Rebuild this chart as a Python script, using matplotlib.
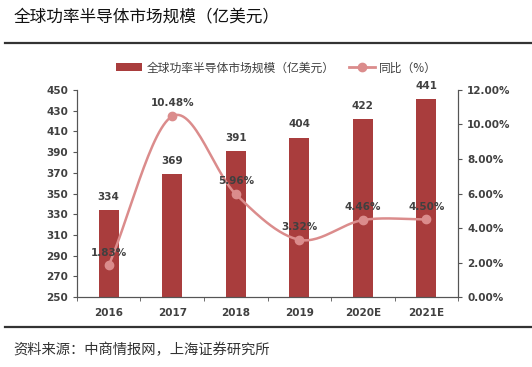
import numpy as np
import matplotlib.pyplot as plt
from matplotlib.lines import Line2D

plt.rcParams['font.family'] = ['Noto Sans CJK SC', 'DejaVu Sans']

# Dados do gráfico
anos = ["2016", "2017", "2018", "2019", "2020E", "2021E"]
mercado = [334, 369, 391, 404, 422, 441]
crescimento = [1.83, 10.48, 5.96, 3.32, 4.46, 4.50]

COR_BARRA = "#A93D3D"
COR_LINHA = "#DB8C8C"
COR_TEXTO = "#404040"


# Curva suave (Catmull-Rom) passando pelos pontos
def curva_suave(xs, ys, passos=30):
    xs = np.asarray(xs, float)
    ys = np.asarray(ys, float)
    px = np.concatenate([[2 * xs[0] - xs[1]], xs, [2 * xs[-1] - xs[-2]]])
    py = np.concatenate([[2 * ys[0] - ys[1]], ys, [2 * ys[-1] - ys[-2]]])
    cx, cy = [], []
    t = np.linspace(0, 1, passos)
    for i in range(1, len(px) - 2):
        for p, out in ((px, cx), (py, cy)):
            p0, p1, p2, p3 = p[i - 1], p[i], p[i + 1], p[i + 2]
            out.extend(0.5 * ((2 * p1) + (-p0 + p2) * t
                              + (2 * p0 - 5 * p1 + 4 * p2 - p3) * t ** 2
                              + (-p0 + 3 * p1 - 3 * p2 + p3) * t ** 3))
    return np.array(cx), np.array(cy)


fig = plt.figure(figsize=(5.32, 3.67), dpi=100)
ax = fig.add_axes([0.1447, 0.1907, 0.7163, 0.5641])
ax2 = ax.twinx()

x = np.arange(len(anos))
barras = ax.bar(x, mercado, width=0.32, color=COR_BARRA, zorder=2,
                label="全球功率半导体市场规模（亿美元）")
for xi, v in zip(x, mercado):
    ax.text(xi, v + 8, str(v), ha="center", va="bottom", fontsize=7.5,
            color=COR_TEXTO, fontweight="bold", family="DejaVu Sans")

ax.set_ylim(250, 450)
ax.set_yticks(np.arange(250, 451, 20))
ax.set_xlim(-0.5, len(anos) - 0.5)
ax.set_xticks(x)
ax.set_xticklabels(anos)
ax.set_xticks(np.arange(-0.5, len(anos), 1), minor=True)
ax.tick_params(axis="x", which="major", length=0, pad=8)
ax.tick_params(axis="x", which="minor", length=3, color="#555555")
ax.tick_params(axis="y", length=3, color="#555555")

ax2.set_ylim(0, 12)
ax2.set_yticks(np.arange(0, 12.1, 2))
ax2.set_yticklabels([f"{v:.2f}%" for v in np.arange(0, 12.1, 2)])
ax2.tick_params(axis="y", length=3, color="#555555")

cx, cy = curva_suave(x, crescimento)
ax2.plot(cx, cy, color=COR_LINHA, linewidth=1.8, zorder=3)
ax2.plot(x, crescimento, "o", color=COR_LINHA, markersize=6, zorder=4)
for xi, v in zip(x, crescimento):
    ax2.text(xi, v + 0.45, f"{v:.2f}%", ha="center", va="bottom",
             fontsize=7.5, color=COR_TEXTO, fontweight="bold",
             family="DejaVu Sans")

for eixo in (ax, ax2):
    eixo.spines["top"].set_visible(False)
    for lado in ("left", "right", "bottom"):
        eixo.spines[lado].set_color("#555555")
    for lbl in eixo.get_xticklabels() + eixo.get_yticklabels():
        lbl.set_fontsize(7.5)
        lbl.set_fontweight("bold")
        lbl.set_color(COR_TEXTO)
        lbl.set_family("DejaVu Sans")

# Legenda
alca_linha = Line2D([], [], color=COR_LINHA, linewidth=2, marker="o",
                    markersize=6, label="同比（%）")
fig.legend(handles=[barras, alca_linha], loc="center", ncol=2,
           bbox_to_anchor=(0.52, 0.815), frameon=False, fontsize=8.5,
           handlelength=2.2, columnspacing=1.2, handletextpad=0.4,
           labelcolor=COR_TEXTO)

# Título, linhas e fonte
fig.text(0.025, 0.951, "全球功率半导体市场规模（亿美元）", fontsize=12,
         va="center", ha="left", color="#111111")
fig.add_artist(Line2D([0.01, 1.0], [0.883, 0.883], color="#333333",
                      linewidth=1.6))
fig.add_artist(Line2D([0.01, 1.0], [0.109, 0.109], color="#333333",
                      linewidth=1.6))
fig.text(0.025, 0.046, "资料来源：中商情报网，上海证券研究所", fontsize=10.3,
         va="center", ha="left", color="#333333")

fig.savefig("out.png", dpi=100)
